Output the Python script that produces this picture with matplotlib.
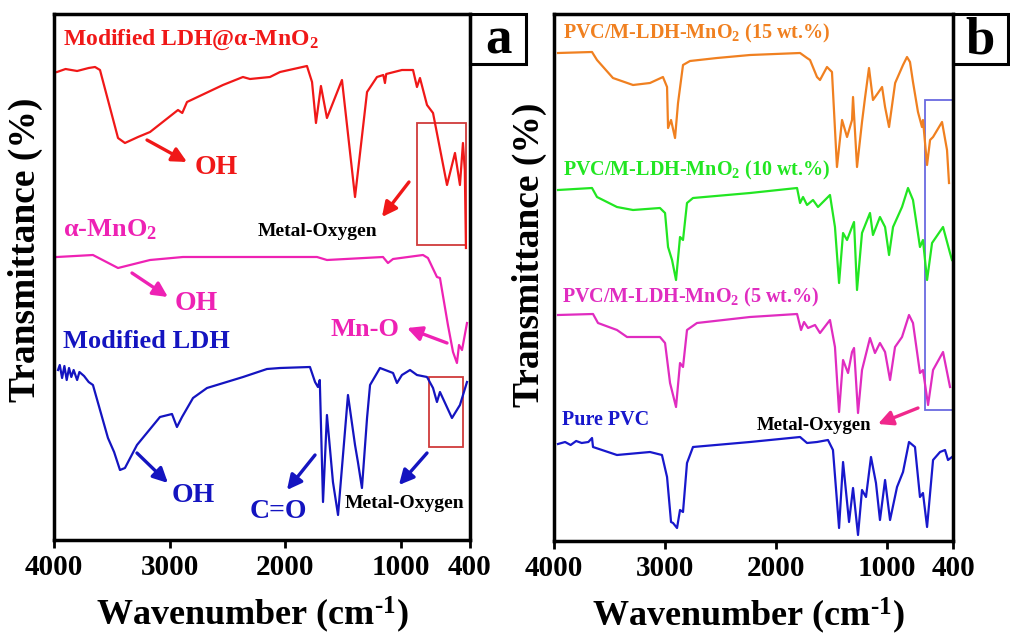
import matplotlib
matplotlib.use("Agg")
import matplotlib.pyplot as plt
from matplotlib.patches import Rectangle

plt.rcParams['font.family'] = ['Liberation Serif', 'DejaVu Serif']
plt.rcParams['font.weight'] = 'bold'
plt.rcParams['mathtext.fontset'] = 'custom'
plt.rcParams['mathtext.rm'] = 'Liberation Serif:bold'
plt.rcParams['mathtext.bf'] = 'Liberation Serif:bold'
plt.rcParams['mathtext.it'] = 'Liberation Serif:italic:bold'
plt.rcParams['mathtext.default'] = 'bf'

# ---------------- Panel a data (wavenumber, transmittance a.u.) ----------------
ldh_mno2_wn = [3974, 3900, 3800, 3700, 3645, 3602, 3446, 3386, 3273, 3169, 2927, 2890, 2849,
               2538, 2365, 2304, 2131, 2044, 1811, 1767, 1733, 1690, 1638, 1508, 1395, 1291,
               1205, 1150, 1136, 1125, 989, 893, 859, 833, 772, 720, 599, 530, 487, 461, 445, 435]
ldh_mno2_t = [468, 471, 469, 472, 473, 470, 402, 397, 403, 408, 430, 427, 438,
              455, 463, 461, 463, 468, 474, 458, 417, 454, 422, 460, 343, 448,
              463, 465, 457, 466, 470, 470, 453, 462, 435, 427, 355, 387, 355, 397, 370, 292]

mno2_wn = [3974, 3663, 3446, 3169, 2884, 1724, 1638, 1153, 1110, 1066, 807, 764, 686, 660,
           591, 547, 513, 495, 469, 426]
mno2_t = [283, 285, 272, 280, 283, 283, 280, 283, 277, 281, 285, 282, 263, 262,
          215, 188, 177, 195, 190, 217]

ldh_wn = [3965, 3950, 3930, 3910, 3890, 3870, 3850, 3830, 3800, 3780, 3740, 3700, 3663, 3533,
          3480, 3429, 3386, 3282, 3083, 2979, 2936, 2892, 2797, 2676, 2364, 2157, 2044, 1785,
          1741, 1716, 1700, 1672, 1638, 1586, 1542, 1456, 1395, 1370, 1335, 1291, 1265, 1179,
          1066, 1032, 989, 919, 859, 772, 720, 686, 660, 556, 487, 426]
ldh_t = [170, 175, 162, 174, 160, 172, 163, 170, 160, 168, 164, 158, 155, 102,
         88, 70, 72, 95, 123, 126, 113, 123, 142, 152, 163, 171, 172, 173,
         158, 153, 160, 38, 125, 58, 25, 145, 95, 78, 52, 122, 155, 172,
         167, 157, 165, 170, 165, 163, 152, 138, 148, 122, 135, 158]

# ---------------- Panel b data ----------------
pvc15_wn = [3964, 3657, 3612, 3468, 3287, 3134, 3017, 2980, 2971, 2944, 2908, 2881, 2836, 2773,
            2529, 2231, 1780, 1717, 1690, 1627, 1600, 1537, 1492, 1447, 1401, 1356, 1311, 1302,
            1266, 1221, 1194, 1158, 1122, 1077, 1040, 1013, 977, 922, 851, 815, 788, 761, 716,
            680, 671, 634, 607, 580, 499, 454, 436]
pvc15_t = [488, 489, 481, 463, 456, 458, 464, 454, 413, 421, 403, 438, 476, 480,
           483, 486, 488, 483, 481, 464, 461, 474, 469, 374, 421, 404, 421, 444,
           374, 419, 443, 473, 441, 448, 454, 434, 414, 458, 476, 484, 479, 459, 429,
           414, 421, 376, 401, 404, 419, 391, 358]

pvc10_wn = [3964, 3657, 3612, 3432, 3287, 3044, 2998, 2971, 2935, 2899, 2863, 2836, 2800, 2746,
            2231, 1807, 1780, 1753, 1717, 1663, 1618, 1510, 1465, 1428, 1392, 1356, 1311, 1293,
            1266, 1221, 1149, 1122, 1059, 1013, 977, 941, 860, 806, 761, 698, 671, 634, 589,
            490, 427, 409]
pvc10_t = [351, 353, 344, 334, 331, 333, 328, 294, 281, 261, 304, 301, 338, 343,
           348, 353, 338, 344, 336, 341, 334, 346, 314, 258, 308, 301, 314, 319,
           251, 308, 328, 306, 324, 314, 286, 314, 334, 353, 341, 294, 301, 261, 298,
           314, 288, 281]

pvc5_wn = [3964, 3648, 3603, 3432, 3341, 3044, 2998, 2953, 2899, 2863, 2836, 2800, 2710, 2232,
           1807, 1771, 1744, 1708, 1645, 1600, 1510, 1465, 1428, 1392, 1347, 1311, 1293, 1257,
           1221, 1149, 1104, 1059, 1013, 968, 923, 860, 797, 761, 698, 671, 625, 580, 490, 427]
pvc5_t = [226, 227, 218, 211, 204, 204, 198, 158, 134, 178, 174, 211, 218, 224,
          227, 211, 219, 213, 216, 208, 221, 194, 129, 181, 168, 189, 193, 128,
          171, 203, 188, 198, 189, 161, 194, 204, 226, 218, 168, 171, 136, 171, 189, 154]

pvc_wn = [3964, 3900, 3850, 3800, 3750, 3690, 3657, 3648, 3432, 3134, 3026, 2980, 2944, 2926,
          2890, 2863, 2836, 2800, 2746, 2232, 1780, 1717, 1627, 1528, 1483, 1428, 1392, 1338,
          1302, 1257, 1221, 1185, 1140, 1095, 1059, 1013, 968, 905, 851, 797, 743, 698, 671,
          634, 580, 517, 472, 445, 409]
pvc_t = [97, 99, 96, 100, 98, 99, 103, 94, 86, 89, 86, 64, 19, 18,
         13, 31, 29, 78, 94, 99, 104, 98, 99, 101, 91, 13, 79, 19,
         53, 6, 51, 44, 84, 58, 21, 61, 21, 54, 69, 99, 94, 44, 48,
         14, 81, 89, 91, 81, 84]

xticks = [4000, 3000, 2000, 1000, 400]

fig = plt.figure(figsize=(10.1, 6.38), dpi=100)
axa = fig.add_axes([54 / 1010, 1 - 540 / 638, 416 / 1010, 526 / 638])
axb = fig.add_axes([554 / 1010, 1 - 541 / 638, 399 / 1010, 527 / 638])

for ax in (axa, axb):
    ax.set_xlim(4000, 400)
    ax.set_ylim(0, 526 if ax is axa else 527)
    ax.set_xticks(xticks)
    ax.set_xticklabels([str(t) for t in xticks], fontsize=21, fontweight='bold')
    ax.set_yticks([])
    ax.tick_params(axis='x', direction='out', length=6, width=2, pad=4)
    for s in ax.spines.values():
        s.set_linewidth(2.5)
    ax.set_xlabel(r'Wavenumber (cm$^{\text{-}1}$)', fontsize=26, fontweight='bold')
    ax.set_ylabel('Transmittance (%)', fontsize=27, fontweight='bold')

axa.xaxis.set_label_coords(0.476, -0.104)
axb.xaxis.set_label_coords(0.486, -0.104)
axa.yaxis.set_label_coords(-0.027, 0.551)
axb.yaxis.set_label_coords(-0.018, 0.543)

LW = 1.6
red = '#f01818'
mag_a = '#ee22b4'
blue_a = '#1414c0'
axa.plot(ldh_mno2_wn, ldh_mno2_t, color=red, lw=LW)
axa.plot(mno2_wn, mno2_t, color=mag_a, lw=LW)
axa.plot(ldh_wn, ldh_t, color=blue_a, lw=LW)

orange = '#f08020'
green = '#22e622'
mag_b = '#e02cc0'
blue_b = '#1818cc'
axb.plot(pvc15_wn, pvc15_t, color=orange, lw=LW)
axb.plot(pvc10_wn, pvc10_t, color=green, lw=LW)
axb.plot(pvc5_wn, pvc5_t, color=mag_b, lw=LW)
axb.plot(pvc_wn, pvc_t, color=blue_b, lw=LW)


def arrow(ax, tail, head, color):
    ax.annotate('', xy=head, xytext=tail,
                arrowprops=dict(arrowstyle='-|>', color=color, lw=2.4,
                                mutation_scale=22, shrinkA=0, shrinkB=0))


# ---- panel a annotations ----
axa.text(3922, 500, 'Modified LDH@α-MnO$_2$', color=red, fontsize=17, ha='left', va='center')
arrow(axa, (3195, 400), (2849, 378), red)
axa.text(2598, 372, 'OH', color=red, fontsize=20, ha='center', va='center')
axa.text(1724, 308, 'Metal-Oxygen', color='black', fontsize=14, ha='center', va='center')
arrow(axa, (928, 358), (1162, 323), red)
axa.add_patch(Rectangle((859, 295), 435 - 859, 122, fill=False, ec='#d03a3a', lw=1.3))

axa.text(3922, 310, 'α-MnO$_2$', color=mag_a, fontsize=19, ha='left', va='center')
arrow(axa, (3325, 267), (3014, 243), mag_a)
axa.text(2771, 236, 'OH', color=mag_a, fontsize=20, ha='center', va='center')
axa.text(1309, 211, 'Mn-O', color=mag_a, fontsize=19, ha='center', va='center')
arrow(axa, (599, 197), (945, 212), mag_a)

axa.text(3922, 198, 'Modified LDH', color=blue_a, fontsize=19, ha='left', va='center')
arrow(axa, (3282, 87), (3014, 57), blue_a)
axa.text(2797, 45, 'OH', color=blue_a, fontsize=20, ha='center', va='center')
arrow(axa, (1741, 85), (1984, 50), blue_a)
axa.text(2062, 28, 'C=O', color=blue_a, fontsize=20, ha='center', va='center')
arrow(axa, (772, 87), (1015, 55), blue_a)
axa.text(963, 37, 'Metal-Oxygen', color='black', fontsize=14, ha='center', va='center')
axa.add_patch(Rectangle((755, 93), 461 - 755, 70, fill=False, ec='#d03a3a', lw=1.3))

# ---- panel b annotations ----
axb.text(3919, 508, 'PVC/M-LDH-MnO$_2$ (15 wt.%)', color=orange, fontsize=14.5, ha='left', va='center')
axb.text(3919, 371, 'PVC/M-LDH-MnO$_2$ (10 wt.%)', color=green, fontsize=14.5, ha='left', va='center')
axb.text(3928, 244, 'PVC/M-LDH-MnO$_2$ (5 wt.%)', color=mag_b, fontsize=14.5, ha='left', va='center')
axb.text(3928, 121, 'Pure PVC', color=blue_b, fontsize=14.5, ha='left', va='center')
axb.text(1654, 116, 'Metal-Oxygen', color='black', fontsize=13.5, ha='center', va='center')
arrow(axb, (716, 133), (1077, 117), '#f0288c')
axb.add_patch(Rectangle((652, 131), 400 - 652, 310, fill=False, ec='#6a6ae0', lw=1.3, clip_on=False))

# ---- panel letters ----
for x0, x1, letter in ((470, 526, 'a'), (953, 1008, 'b')):
    fig.add_artist(Rectangle((x0 / 1010, 1 - 64 / 638), (x1 - x0) / 1010, 50 / 638,
                             transform=fig.transFigure, fill=False, ec='black', lw=2.2))
    fig.text((x0 + x1) / 2 / 1010, 1 - 40 / 638, letter, fontsize=38, fontweight='bold',
             ha='center', va='center')

fig.savefig('out.png', dpi=100)
